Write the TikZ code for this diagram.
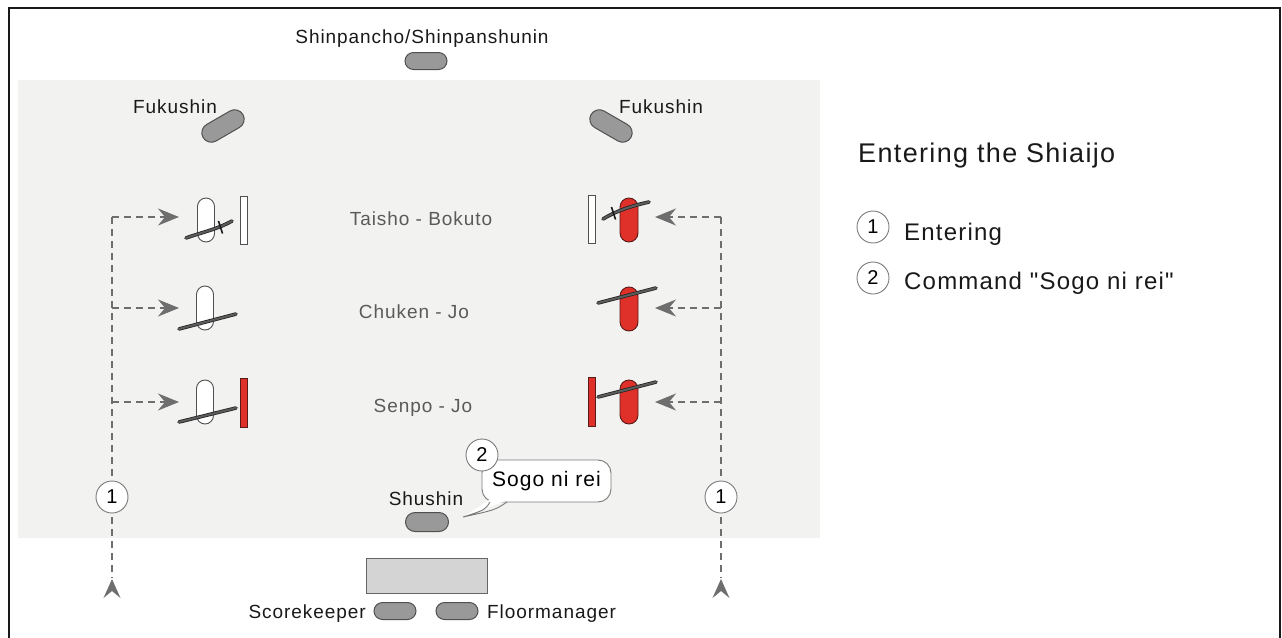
\documentclass[tikz,border=0pt]{standalone}
\usepackage{fontspec}
\setmainfont{Liberation Sans}
\newfontfamily\lbl{Liberation Sans}[LetterSpace=5]
\usetikzlibrary{shapes.misc,arrows.meta}
\definecolor{areagray}{HTML}{F2F2F1}
\definecolor{capgray}{HTML}{999999}
\definecolor{edgegray}{HTML}{505050}
\definecolor{arrgray}{HTML}{6E6E6E}
\definecolor{redfill}{HTML}{E0302A}
\definecolor{rededge}{HTML}{5A1A18}
\definecolor{tablegray}{HTML}{D4D4D4}
\definecolor{labelgray}{HTML}{5A5A5A}
\definecolor{circgray}{HTML}{7A7A7A}
\definecolor{swordgray}{HTML}{5C5C5C}
\begin{document}
\begin{tikzpicture}[x=1pt,y=-1pt,
  capsule/.style={rounded rectangle, draw=edgegray, fill=capgray, line width=1pt, minimum width=43pt, minimum height=18pt, inner sep=0pt},
  whiteplayer/.style={rounded rectangle, rotate=90, draw=edgegray, fill=white, line width=0.9pt, minimum width=44pt, minimum height=17pt, inner sep=0pt},
  redplayer/.style={rounded rectangle, rotate=90, draw=rededge, fill=redfill, line width=0.9pt, minimum width=44pt, minimum height=18pt, inner sep=0pt},
  whitebar/.style={rectangle, draw=edgegray, fill=white, line width=0.9pt, minimum width=7pt, minimum height=48pt, inner sep=0pt},
  redbar/.style={rectangle, draw=rededge, fill=redfill, line width=0.9pt, minimum width=7pt, minimum height=49pt, inner sep=0pt},
  sword/.style={draw=black!85, line width=0.8pt, double=swordgray, double distance=2pt, line cap=round},
  guard/.style={draw=black!90, line width=1.6pt},
  lbltext/.style={font=\lbl\fontsize{19}{22}\selectfont, inner sep=0pt, text=black!90},
  midtext/.style={font=\lbl\fontsize{19}{22}\selectfont, inner sep=0pt, text=labelgray},
  numcirc/.style={circle, draw=circgray, fill=white, line width=0.9pt, minimum size=32pt, inner sep=0pt, font=\fontsize{20}{22}\selectfont},
  dashline/.style={draw=arrgray, line width=1.6pt, dash pattern=on 7pt off 5pt},
  myarrow/.style={-{Stealth[length=21pt,width=17pt,inset=7pt]}}
]
\useasboundingbox (0,0) rectangle (1282,637);
\fill[white] (0,0) rectangle (1282,637);
% frame
\draw[line width=2.5pt, black!90] (9,650) -- (9,8) -- (1280,8) -- (1280,650);
% shiaijo area
\fill[areagray] (18,80) rectangle (820,538);

% shinpancho
\node[lbltext, anchor=base] (shinpt) at (422,43) {Shinpancho/Shinpanshunin};
\node[capsule, minimum width=42pt, minimum height=17pt] (shinp) at (426,61) {};

% fukushin
\node[lbltext, anchor=base] (fukLt) at (175,113) {Fukushin};
\node[capsule, minimum width=46pt, minimum height=19pt, rotate=30] (fukL) at (223,126) {};
\node[lbltext, anchor=base] (fukRt) at (661,113) {Fukushin};
\node[capsule, minimum width=46pt, minimum height=19pt, rotate=-30] (fukR) at (611,126) {};

% middle labels
\node[midtext, anchor=base] (row1t) at (421,225) {Taisho - Bokuto};
\node[midtext, anchor=base] (row2t) at (414,318) {Chuken - Jo};
\node[midtext, anchor=base] (row3t) at (423,412) {Senpo - Jo};

% left (white) players
\node[whiteplayer] (pl1) at (206,220) {};
\node[whiteplayer] (pl2) at (205,308) {};
\node[whiteplayer] (pl3) at (205,402) {};
\node[whitebar] (bl1) at (243.5,220) {};
\node[redbar] (bl3) at (243.5,402.5) {};
\draw[sword] (186,238) .. controls (203,232) and (218,229) .. (232,221);
\draw[guard] (218.5,221) -- (222.5,233.5);
\draw[sword] (179,329) -- (236,314);
\draw[sword] (179,422) -- (236,408);

% right (red) players
\node[redplayer] (pr1) at (629,220) {};
\node[redplayer] (pr2) at (629,309) {};
\node[redplayer] (pr3) at (629,402) {};
\node[whitebar] (br1) at (592,219.5) {};
\node[redbar] (br3) at (592,402) {};
\draw[sword] (603,219) .. controls (616,211) and (631,206) .. (649,202);
\draw[guard] (611.5,207) -- (615.5,219.5);
\draw[sword] (598,303) -- (656,288);
\draw[sword] (598,397) -- (656,382);

% left entering path
\coordinate (lj1) at (112,217);
\coordinate (lj2) at (112,308);
\coordinate (lj3) at (112,402);
\coordinate (lbot) at (112,578);
\coordinate (la1) at (179,217);
\coordinate (la2) at (179,308);
\coordinate (la3) at (179,402);
\draw[dashline] (lj1) -- (lbot);
\draw[dashline, myarrow] (lj1) -- (la1);
\draw[dashline, myarrow] (lj2) -- (la2);
\draw[dashline, myarrow] (lj3) -- (la3);
\fill[arrgray] (112,579) -- (120.5,598) -- (112,591) -- (103.5,598) -- cycle;
\node[numcirc] (c1l) at (112,497) {1};

% right entering path
\coordinate (rj1) at (721,217);
\coordinate (rj2) at (721,308);
\coordinate (rj3) at (721,402);
\coordinate (rbot) at (721,578);
\coordinate (ra1) at (655,217);
\coordinate (ra2) at (655,308);
\coordinate (ra3) at (655,402);
\draw[dashline] (rj1) -- (rbot);
\draw[dashline, myarrow] (rj1) -- (ra1);
\draw[dashline, myarrow] (rj2) -- (ra2);
\draw[dashline, myarrow] (rj3) -- (ra3);
\fill[arrgray] (721,579) -- (729.5,598) -- (721,591) -- (712.5,598) -- cycle;
\node[numcirc] (c1r) at (721,497) {1};

% shushin and callout
\node[lbltext, anchor=base] (shut) at (426,505) {Shushin};
\node[capsule, minimum width=43pt, minimum height=19pt] (shu) at (427,522) {};
\node[draw=circgray, fill=white, line width=0.9pt, rounded corners=13pt, minimum width=129pt, minimum height=42pt, inner sep=0pt, font=\lbl\fontsize{21}{24}\selectfont] (sogo) at (546.5,481) {Sogo ni rei};
\coordinate (tail) at (463,517);
\fill[white] (489,500) -- (tail) -- (508,500) -- cycle;
\draw[circgray, line width=0.9pt] (490,502) .. controls (485,510) .. (tail) .. controls (495,510) .. (507,502);
\node[numcirc] (c2) at (482,455) {2};

% table
\node[draw=black!60, fill=tablegray, line width=0.9pt, minimum width=121pt, minimum height=35pt, inner sep=0pt] (table) at (426.5,575.5) {};
\node[capsule, minimum width=42pt, minimum height=17pt] (score) at (395,611) {};
\node[capsule, minimum width=42pt, minimum height=17pt] (floor) at (457,611) {};
\node[lbltext, anchor=base east] (scoret) at (366,618) {Scorekeeper};
\node[lbltext, anchor=base west] (floort) at (487,618) {Floormanager};

% legend
\node[font=\lbl\fontsize{27}{30}\selectfont, inner sep=0pt, anchor=base west, text=black!90] (title) at (858,162) {Entering the Shiaijo};
\node[numcirc] (lg1) at (873,227) {1};
\node[font=\lbl\fontsize{24}{28}\selectfont, inner sep=0pt, anchor=base west, text=black!90] (lg1t) at (904,240) {Entering};
\node[numcirc] (lg2) at (873,278) {2};
\node[font=\lbl\fontsize{24}{28}\selectfont, inner sep=0pt, anchor=base west, text=black!90] (lg2t) at (904,289) {Command "Sogo ni rei"};
\end{tikzpicture}
\end{document}
